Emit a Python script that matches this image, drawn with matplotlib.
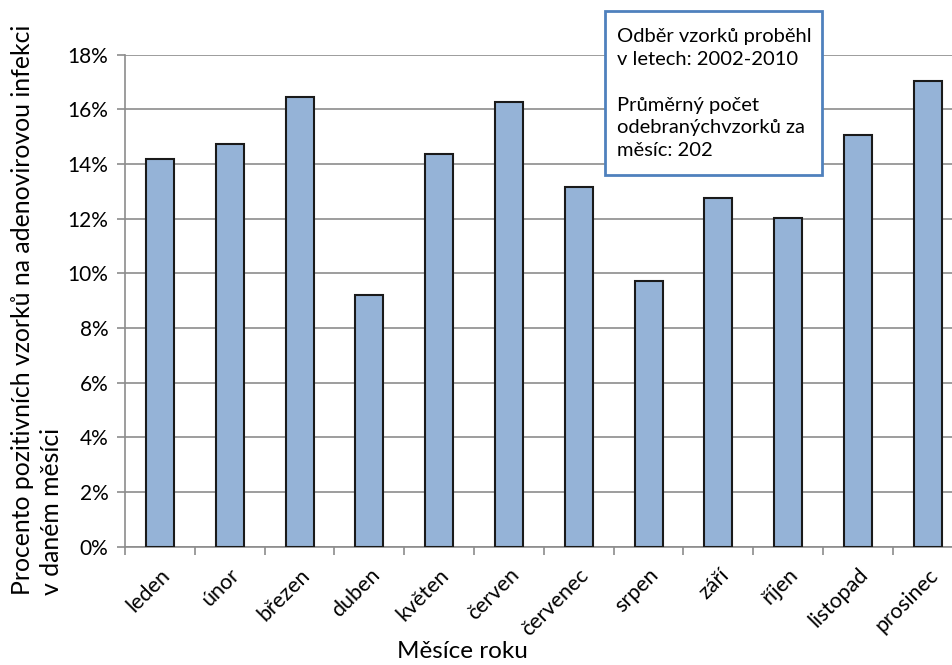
import numpy as np
import matplotlib.pyplot as plt
from matplotlib.patches import Rectangle
from matplotlib.ticker import FixedLocator

plt.rcParams['font.family'] = ['Lato', 'DejaVu Sans']

mesice = ['leden', 'únor', 'březen', 'duben', 'květen', 'červen',
          'červenec', 'srpen', 'září', 'říjen', 'listopad', 'prosinec']
procenta = [14.17, 14.72, 16.45, 9.21, 14.35, 16.25,
            13.15, 9.72, 12.74, 12.02, 15.07, 17.04]
yticks = [0, 2, 4, 6, 8, 10, 12, 14, 16, 18]

fig = plt.figure(figsize=(9.53, 6.65), dpi=100)
ax = fig.add_axes([0.1312, 0.1779, 0.879, 0.7401])

x = np.arange(len(mesice))
ax.bar(x, procenta, width=0.4, color='#95b3d7', edgecolor='#1a1a1a',
       linewidth=1.5, zorder=3)

ax.set_xlim(-0.5, len(mesice) - 0.5)
ax.set_ylim(0, 18)
ax.set_yticks(yticks)
ax.set_yticklabels([f'{v}%' for v in yticks], fontsize=15)
ax.yaxis.grid(True, color='#8c8c8c', linewidth=1.2, zorder=0)

ax.set_xticks(x)
ax.set_xticklabels(mesice, fontsize=15.5, rotation=45, ha='right',
                   rotation_mode='anchor')
ax.xaxis.set_minor_locator(FixedLocator(np.arange(-0.5, len(mesice), 1)))
ax.tick_params(axis='x', which='major', length=0, pad=13)
ax.tick_params(axis='x', which='minor', length=6, color='#8c8c8c', width=1.2)
ax.tick_params(axis='y', length=6, color='#8c8c8c', width=1.2, pad=6)

for s in ['top', 'right']:
    ax.spines[s].set_visible(False)
for s in ['left', 'bottom']:
    ax.spines[s].set_color('#8c8c8c')
    ax.spines[s].set_linewidth(1.2)

# popisky os
fig.text(0.485, 0.004, 'Měsíce roku', fontsize=17.5, ha='center', va='bottom')
fig.text(0.012, 0.105,
         'Procento pozitivních vzorků na adenovirovou infekci\nv daném měsíci',
         rotation=90, fontsize=17.8, ha='left', va='bottom',
         multialignment='left', linespacing=1.3)

# informační rámeček
fig.patches.append(Rectangle((0.635, 0.7368), 0.2277, 0.2466,
                             transform=fig.transFigure, facecolor='white',
                             edgecolor='#4f81bd', linewidth=2, zorder=5))
fig.text(0.647, 0.958,
         'Odběr vzorků proběhl\nv letech: 2002-2010\n\nPrůměrný počet\n'
         'odebranýchvzorků za\nměsíc: 202',
         fontsize=14.5, ha='left', va='top', linespacing=1.42, zorder=6)

fig.savefig('out.png', dpi=100)
